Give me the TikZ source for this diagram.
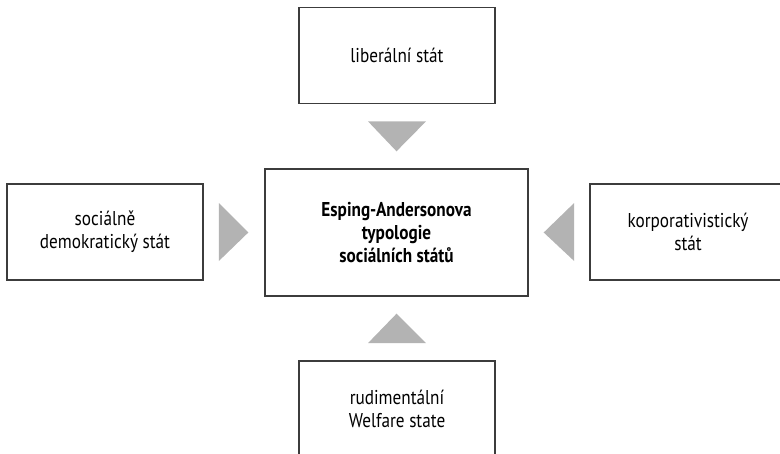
\documentclass[tikz,border=0pt]{standalone}
\usepackage{fontspec}
\setmainfont[FakeStretch=0.86]{PT Sans}
\usetikzlibrary{calc}
\definecolor{boxline}{HTML}{3C3C3C}
\definecolor{wedgegray}{HTML}{B3B3B3}
\tikzset{
	typbox/.style={draw=boxline, line width=1.3pt, fill=white, align=center,
		minimum width=147pt, minimum height=72pt, inner sep=2pt,
		font=\fontsize{15}{17}\selectfont},
	wedge/.style={fill=wedgegray, draw=none}
}

\begin{document}
\begin{tikzpicture}[x=0.75pt,y=-0.75pt]
		\clip (0,0) rectangle (780,453);

		\node[typbox, minimum width=197pt, minimum height=95pt,
			font=\bfseries\fontsize{15}{17}\selectfont] (esa) at (396.5,232.5) {Esping-Andersonova\\typologie\\sociálních států};
		\node[typbox] (lib) at (397,55.5) {liberální stát};
		\node[typbox] (sdem) at (105,232) {sociálně\\demokratický stát};
		\node[typbox] (korp) at (688,232) {korporativistický\\stát};
		\node[typbox] (rud) at (397,409) {rudimentální\\Welfare state};

		\fill[wedge] ($(lib.south)+(-29,17)$) -- ($(lib.south)+(29,17)$) -- ($(esa.north)+(0,-17)$) -- cycle;
		\fill[wedge] ($(sdem.east)+(15,-29)$) -- ($(sdem.east)+(15,29)$) -- ($(esa.west)+(-16,0)$) -- cycle;
		\fill[wedge] ($(korp.west)+(-15,-29)$) -- ($(korp.west)+(-15,29)$) -- ($(esa.east)+(15,0)$) -- cycle;
		\fill[wedge] ($(rud.north)+(-29,-17)$) -- ($(rud.north)+(29,-17)$) -- ($(esa.south)+(0,17)$) -- cycle;
	\end{tikzpicture}
\end{document}
